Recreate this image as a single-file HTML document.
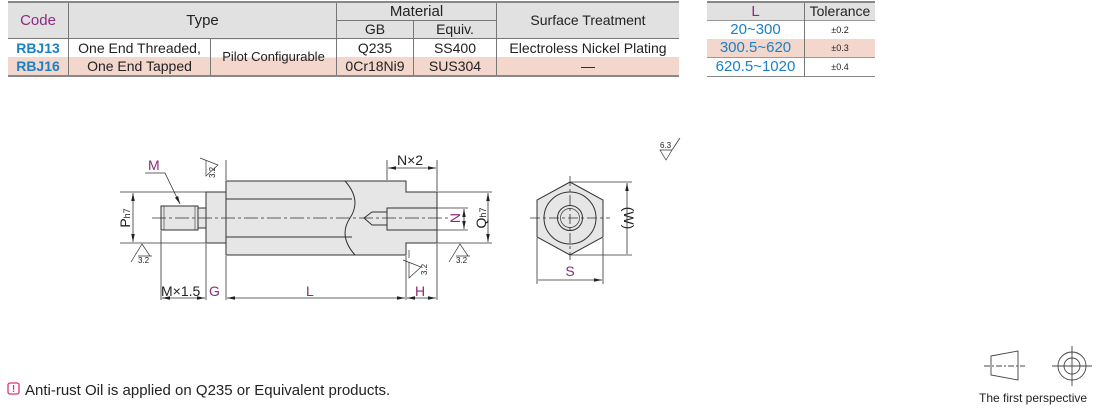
<!DOCTYPE html>
<html><head><meta charset="utf-8"><style>
body{margin:0;width:1110px;height:408px;background:#fff;overflow:hidden;font-family:"Liberation Sans",sans-serif;position:relative}
table{border-collapse:collapse;position:absolute;font-size:14px;color:#222}
td{padding:0;text-align:center;border-left:1px solid #777;border-right:1px solid #777;line-height:18px;white-space:nowrap}
tr.h td{line-height:17px}
.h{background:#e1e1e1}
.p{background:#f3d6cc}
.b{color:#1b80c4;font-weight:bold}
.c{color:#8c2a7e}
.lb{color:#1b80c4}
</style></head><body>
<table style="left:8px;top:1px;width:671px;border-top:2px solid #888;border-bottom:2px solid #888">
<tr class="h"><td rowspan="2" class="c" style="width:60px;border-left:none;height:34px;font-size:15px">Code</td><td rowspan="2" colspan="2" style="width:265px;font-size:15px">Type</td><td colspan="2" style="border-bottom:1px solid #777;font-size:15px">Material</td><td rowspan="2" style="width:182px;border-right:none">Surface Treatment</td></tr>
<tr class="h"><td style="width:76px">GB</td><td style="width:82px">Equiv.</td></tr>
<tr><td class="b" style="border-left:none;border-top:1px solid #777">RBJ13</td><td style="width:141px;border-top:1px solid #777">One End Threaded,</td><td rowspan="2" style="border-top:1px solid #777;background:linear-gradient(#fff 50%,#f3d6cc 50%);font-size:13px">Pilot Configurable</td><td style="border-top:1px solid #777">Q235</td><td style="border-top:1px solid #777">SS400</td><td style="border-right:none;border-top:1px solid #777">Electroless Nickel Plating</td></tr>
<tr class="p"><td class="b" style="border-left:none">RBJ16</td><td>One End Tapped</td><td>0Cr18Ni9</td><td>SUS304</td><td style="border-right:none">—</td></tr>
</table>
<table style="left:707px;top:1px;width:168px;border-top:2px solid #888;border-bottom:1px solid #888">
<tr class="h"><td class="c" style="width:97px;border-left:none;font-size:15px">L</td><td style="border-right:none">Tolerance</td></tr>
<tr><td class="lb" style="border-left:none;border-top:1px solid #999;font-size:15px">20~300</td><td style="border-right:none;border-top:1px solid #999;font-size:9px">±0.2</td></tr>
<tr class="p"><td class="lb" style="border-left:none;font-size:15px">300.5~620</td><td style="border-right:none;font-size:9px">±0.3</td></tr>
<tr><td class="lb" style="border-left:none;border-top:1px solid #999;font-size:15px">620.5~1020</td><td style="border-right:none;border-top:1px solid #999;font-size:9px">±0.4</td></tr>
</table>

<svg width="1110" height="408" style="position:absolute;left:0;top:0" font-family="Liberation Sans, sans-serif">
<defs><marker id="a" markerWidth="10" markerHeight="6" refX="10" refY="3" orient="auto-start-reverse"><path d="M0,0.8L10,3L0,5.2z" fill="#222"/></marker></defs>
<g stroke="#333" stroke-width="1" fill="#e6e6e6">
<rect x="161" y="206" width="37" height="24"/>
<rect x="198" y="208" width="8" height="20"/>
<rect x="206" y="192" width="20" height="51"/>
<path d="M226,181 H406 V192 H437 V243 H406 V255 H226 Z"/>
<rect x="387" y="208" width="50" height="22"/>
<path d="M387,212 H372 L364,218 L372,225 H387" fill="none"/>
<path d="M226,199 H352 M226,237 H352" fill="none"/>
<path d="M345,181 Q362,200 350,218 Q338,236 355,255" fill="none"/>
<path d="M164,206 V230 M195,206 V230" fill="none" stroke-width="0.6"/>
</g>
<g stroke="#333" stroke-width="0.8" fill="none">
<path d="M152,218 H448" stroke-dasharray="14,3,3,3"/>
<path d="M120,192 H206 M120,243 H206 M437,192 H492 M437,243 H492 M437,208 H468 M437,230 H468"/>
<path d="M133,193 V242" marker-start="url(#a)" marker-end="url(#a)"/>
<path d="M488,193 V242" marker-start="url(#a)" marker-end="url(#a)"/>
<path d="M464,209 V229" marker-start="url(#a)" marker-end="url(#a)"/>
<path d="M161,231 V300 M206,244 V300 M226,256 V300 M406,256 V300 M437,244 V300 M226,180 V160 M387,180 V160 M437,191 V160"/>
<path d="M162,298 H205" marker-start="url(#a)" marker-end="url(#a)"/>
<path d="M227,298 H405" marker-start="url(#a)" marker-end="url(#a)"/>
<path d="M407,298 H436" marker-start="url(#a)" marker-end="url(#a)"/>
<path d="M388,168 H436" marker-start="url(#a)" marker-end="url(#a)"/>
<path d="M145,173 H165 L180,204" marker-end="url(#a)"/>
</g>
<g font-size="14" fill="#222">
<text x="148" y="170" fill="#8c2a7e">M</text>
<text x="397" y="165">N×2</text>
<text x="161" y="296">M×1.5</text>
<text x="209" y="296" fill="#8c2a7e">G</text>
<text x="306" y="296" fill="#8c2a7e">L</text>
<text x="415" y="296" fill="#8c2a7e">H</text>
<text x="570" y="276" fill="#8c2a7e" text-anchor="middle">S</text>
<text transform="translate(130,218) rotate(-90)" text-anchor="middle">P<tspan font-size="9">h7</tspan></text>
<text transform="translate(486,218) rotate(-90)" text-anchor="middle">Q<tspan font-size="9">h7</tspan></text>
<text transform="translate(460,218) rotate(-90)" text-anchor="middle" fill="#8c2a7e">N</text>
<text transform="translate(624,218) rotate(90)" text-anchor="middle">(W)</text>
</g>
<g stroke="#333" stroke-width="0.7" fill="none" font-size="8">
<path d="M131,262 L142,244 L150,256 H138 M142,256 H152"/><text x="138" y="263" fill="#222" stroke="none">3.2</text>
<path d="M449,262 L460,244 L468,256 H456 M460,256 H470"/><text x="456" y="263" fill="#222" stroke="none">3.2</text>
<path d="M403,260 L421,267 L409,278 V262 M409,258 V250"/>
<text transform="translate(427,275) rotate(-90)" fill="#222" stroke="none">3.2</text>
<path d="M200,158 L218,165 L206,176 V160"/>
<text transform="translate(215,178) rotate(-90)" fill="#222" stroke="none">3.2</text>
<path d="M660,150 H672 L666,160 Z M672,150 L680,138"/><text x="660" y="148" fill="#222" stroke="none">6.3</text>
</g>
<g stroke="#333" stroke-width="1">
<path d="M570,182 L603,200 L603,237 L570,255 L537,237 L537,200 Z" fill="#e6e6e6"/>
<circle cx="570" cy="218" r="26" fill="none"/>
<circle cx="570" cy="218" r="12.5" fill="#e6e6e6"/>
<circle cx="570" cy="218" r="9.5" fill="none" stroke-width="0.7"/>
<path d="M530,218 H610 M570,176 V260" stroke-dasharray="10,3,3,3" stroke-width="0.8" fill="none"/>
<path d="M571,182 H632 M571,255 H632 M537,238 V284 M603,238 V284" stroke-width="0.8" fill="none"/>
<path d="M627,183 V254 M538,280 H602" stroke-width="0.8" marker-start="url(#a)" marker-end="url(#a)" fill="none"/>
</g>
<g stroke="#444" stroke-width="0.9" fill="none">
<path d="M991,356 L1018,351 V380 L991,375 Z"/>
<path d="M984,366 H1025" stroke-dasharray="6,2,2,2"/>
<circle cx="1072" cy="366" r="14"/><circle cx="1072" cy="366" r="8"/>
<path d="M1052,366 H1092 M1072,346 V386"/>
</g>
<text x="979" y="402" font-size="12" fill="#222">The first perspective</text>
<rect x="8" y="383" width="11" height="11" rx="2" fill="none" stroke="#e0307a" stroke-width="1.3"/>
<text x="13.5" y="392" font-size="10" font-weight="bold" fill="#e0307a" text-anchor="middle">!</text>
<text x="25" y="395" font-size="15" fill="#222">Anti-rust Oil is applied on Q235 or Equivalent products.</text>
</svg>
</body></html>
